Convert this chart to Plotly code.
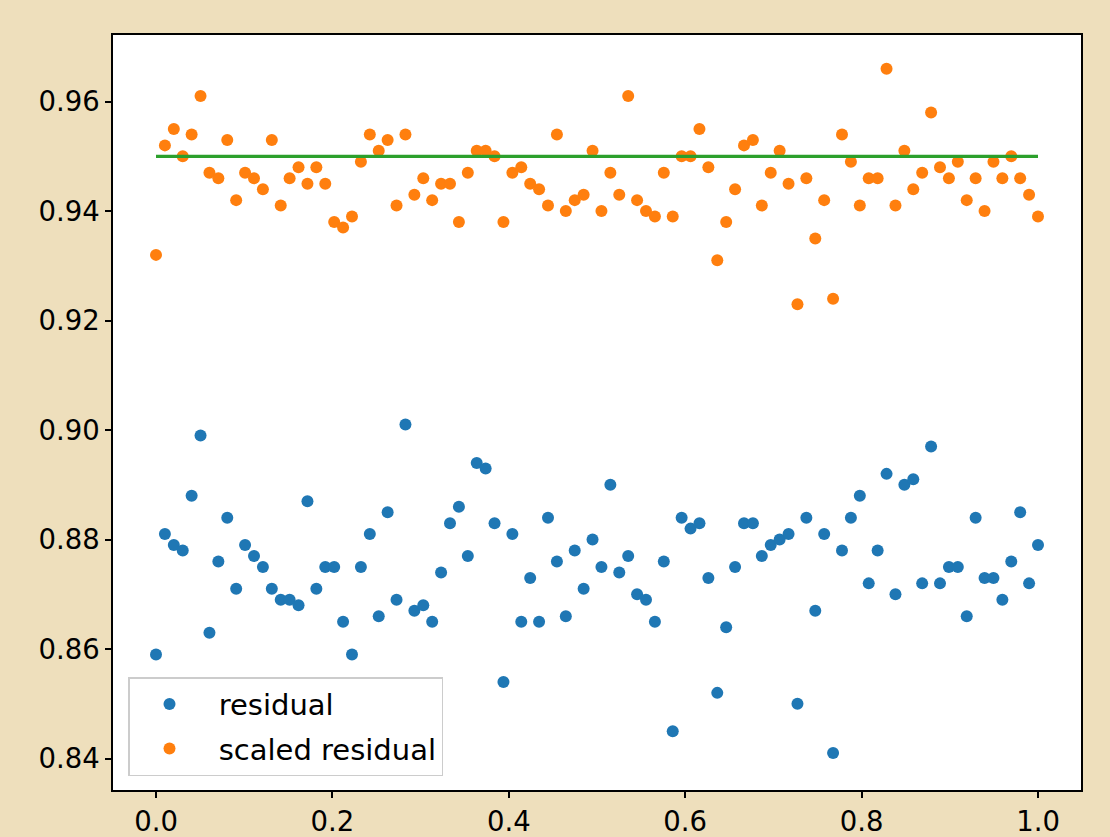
import numpy as np
import plotly.graph_objects as go

x_vals = np.linspace(0, 1, 100)

residual = [
    0.859, 0.881, 0.879, 0.878, 0.888, 0.899, 0.863, 0.876, 0.884, 0.871,
    0.879, 0.877, 0.875, 0.871, 0.869, 0.869, 0.868, 0.887, 0.871, 0.875,
    0.875, 0.865, 0.859, 0.875, 0.881, 0.866, 0.885, 0.869, 0.901, 0.867,
    0.868, 0.865, 0.874, 0.883, 0.886, 0.877, 0.894, 0.893, 0.883, 0.854,
    0.881, 0.865, 0.873, 0.865, 0.884, 0.876, 0.866, 0.878, 0.871, 0.880,
    0.875, 0.890, 0.874, 0.877, 0.870, 0.869, 0.865, 0.876, 0.845, 0.884,
    0.882, 0.883, 0.873, 0.852, 0.864, 0.875, 0.883, 0.883, 0.877, 0.879,
    0.880, 0.881, 0.850, 0.884, 0.867, 0.881, 0.841, 0.878, 0.884, 0.888,
    0.872, 0.878, 0.892, 0.870, 0.890, 0.891, 0.872, 0.897, 0.872, 0.875,
    0.875, 0.866, 0.884, 0.873, 0.873, 0.869, 0.876, 0.885, 0.872, 0.879,
]

scaled_residual = [
    0.932, 0.952, 0.955, 0.950, 0.954, 0.961, 0.947, 0.946, 0.953, 0.942,
    0.947, 0.946, 0.944, 0.953, 0.941, 0.946, 0.948, 0.945, 0.948, 0.945,
    0.938, 0.937, 0.939, 0.949, 0.954, 0.951, 0.953, 0.941, 0.954, 0.943,
    0.946, 0.942, 0.945, 0.945, 0.938, 0.947, 0.951, 0.951, 0.950, 0.938,
    0.947, 0.948, 0.945, 0.944, 0.941, 0.954, 0.940, 0.942, 0.943, 0.951,
    0.940, 0.947, 0.943, 0.961, 0.942, 0.940, 0.939, 0.947, 0.939, 0.950,
    0.950, 0.955, 0.948, 0.931, 0.938, 0.944, 0.952, 0.953, 0.941, 0.947,
    0.951, 0.945, 0.923, 0.946, 0.935, 0.942, 0.924, 0.954, 0.949, 0.941,
    0.946, 0.946, 0.966, 0.941, 0.951, 0.944, 0.947, 0.958, 0.948, 0.946,
    0.949, 0.942, 0.946, 0.940, 0.949, 0.946, 0.950, 0.946, 0.943, 0.939,
]

target_x = [0.0, 1.0]
target_y = [0.95, 0.95]

series_names = ["residual", "scaled residual"]

FONT = "DejaVu Sans"
FS = 27.5
LEG_FS = 29

fig = go.Figure()
fig.add_trace(go.Scatter(
    x=x_vals, y=residual, mode="markers", name="\u00a0" + series_names[0], legendgroup="a",
    marker=dict(color="#1f77b4", size=12, line=dict(width=0)),
))
fig.add_trace(go.Scatter(
    x=x_vals, y=scaled_residual, mode="markers", name="\u00a0" + series_names[1], legendgroup="b",
    marker=dict(color="#ff7f0e", size=12, line=dict(width=0)),
))
fig.add_trace(go.Scatter(
    x=target_x, y=target_y, mode="lines", showlegend=False,
    line=dict(color="#2ca02c", width=3.2),
))

axis_common = dict(
    showline=True, linecolor="black", linewidth=1.5, mirror=True,
    ticks="outside", ticklen=6, tickwidth=1.5, tickcolor="black",
    showgrid=False, zeroline=False, automargin=False,
    tickfont=dict(family=FONT, size=FS, color="black"),
)

fig.update_layout(
    width=1110, height=837,
    margin=dict(l=113, r=29, t=35, b=47),
    paper_bgcolor="#eedfbc",
    plot_bgcolor="white",
    font=dict(family=FONT, size=FS, color="black"),
    xaxis=dict(range=[-0.04875, 1.04875], tick0=0, dtick=0.2, tickformat=".1f", **axis_common),
    yaxis=dict(range=[0.83426, 0.97216], tick0=0.84, dtick=0.02, tickformat=".2f", **axis_common),
    legend=dict(
        x=0.0155, y=0.0185, xanchor="left", yanchor="bottom",
        bgcolor="rgba(255,255,255,0.85)", bordercolor="#cccccc", borderwidth=1.5,
        font=dict(family=FONT, size=LEG_FS, color="black"),
        itemwidth=70, tracegroupgap=4,
    ),
    showlegend=True,
)

fig.write_html("out.html")
